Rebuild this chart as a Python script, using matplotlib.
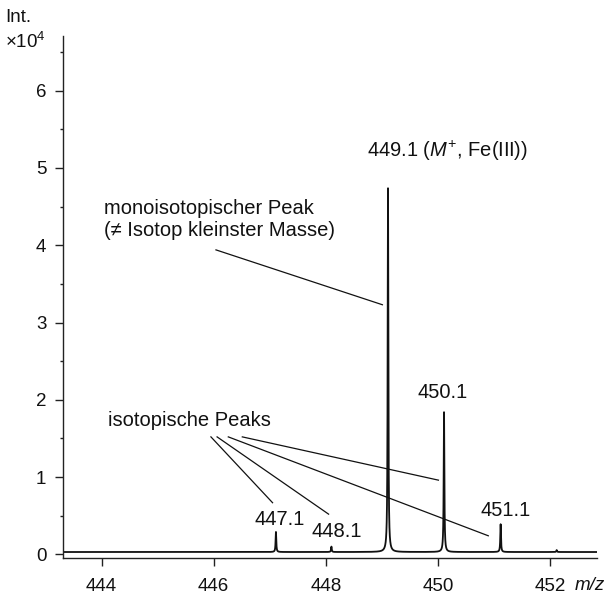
import numpy as np
import matplotlib
matplotlib.use("Agg")
import matplotlib.pyplot as plt

plt.rcParams['font.family'] = ['Liberation Sans', 'DejaVu Sans']
plt.rcParams['mathtext.fontset'] = 'custom'
plt.rcParams['mathtext.rm'] = 'Liberation Sans'
plt.rcParams['mathtext.it'] = 'Liberation Sans:italic'

# ---- data ----
peak_mz = [447.11, 448.10, 449.11, 450.11, 451.12, 452.12]
peak_height = [0.26, 0.07, 4.71, 1.81, 0.36, 0.025]   # above baseline, x10^4
baseline = 0.03
x_ticks = [444, 446, 448, 450, 452]
y_ticks = [0, 1, 2, 3, 4, 5, 6]
peak_labels = ["447.1", "448.1", "449.1 ($\\mathit{M}^{+}$, Fe(III))", "450.1", "451.1"]
label_pos = [(447.18, 0.457), (448.19, 0.295), (448.73, 5.22), (450.09, 2.10), (451.21, 0.57)]
label_ha = ["center", "center", "left", "center", "center"]

mono_text = "monoisotopischer Peak\n(\u2260 Isotop kleinster Masse)"
mono_line = ((446.04, 3.94), (449.01, 3.23))
iso_text = "isotopische Peaks"
iso_lines = [((445.95, 1.52), (447.05, 0.668)),
             ((446.06, 1.52), (448.05, 0.52)),
             ((446.26, 1.52), (450.90, 0.24)),
             ((446.51, 1.52), (450.01, 0.96))]

xmin, xmax = 443.31, 452.84
ymin, ymax = -0.041, 6.708

# ---- figure ----
W, H = 609, 596
fig = plt.figure(figsize=(W / 100, H / 100), dpi=100)
ax = fig.add_axes([63 / W, 1 - 557.5 / H, (597 - 63) / W, (557.5 - 36) / H])

mz = np.linspace(xmin, xmax, 30000)
hw = 0.007
spec = np.full_like(mz, baseline)
for c, h in zip(peak_mz, peak_height):
    spec += h * hw**2 / (hw**2 + (mz - c)**2)
ax.plot(mz, spec, color='#111111', lw=1.3, solid_joinstyle='round')

ax.set_xlim(xmin, xmax)
ax.set_ylim(ymin, ymax)
for s in ['top', 'right']:
    ax.spines[s].set_visible(False)
for s in ['left', 'bottom']:
    ax.spines[s].set_linewidth(1.0)
    ax.spines[s].set_color('#222222')

ax.set_xticks(x_ticks)
ax.set_yticks(y_ticks)
ax.set_yticks(np.arange(0.5, 6.6, 1.0), minor=True)
ax.tick_params(axis='both', which='major', direction='out', length=6, width=1.0,
               color='#222222', labelsize=13.5, labelcolor='#111111')
ax.tick_params(axis='x', which='major', pad=9)
ax.tick_params(axis='y', which='major', pad=6)
ax.tick_params(axis='y', which='minor', direction='out', length=2.5, width=1.0, color='#222222')

tfs = 14.5
for lab, (lx, ly), ha in zip(peak_labels, label_pos, label_ha):
    ax.text(lx, ly, lab, ha=ha, va='center', fontsize=tfs, color='#111111')

ax.text(444.04, 4.60, mono_text, ha='left', va='top', fontsize=tfs,
        linespacing=1.18, color='#111111')
ax.plot([mono_line[0][0], mono_line[1][0]], [mono_line[0][1], mono_line[1][1]],
        color='#111111', lw=0.9)

ax.text(444.12, 1.73, iso_text, ha='left', va='center', fontsize=tfs, color='#111111')
for (p0, p1) in iso_lines:
    ax.plot([p0[0], p1[0]], [p0[1], p1[1]], color='#111111', lw=0.9)

fig.text(5 / W, 1 - 18 / H, "Int.", ha='left', va='center', fontsize=13.5, color='#111111')
fig.text(5 / W, 1 - 42 / H, "\u00d710$^{4}$", ha='left', va='center', fontsize=13.5, color='#111111')
fig.text(575 / W, 1 - 586 / H, "m/z", ha='left', va='center', fontsize=13.5,
         style='italic', color='#111111')

fig.savefig("out.png", dpi=100)
